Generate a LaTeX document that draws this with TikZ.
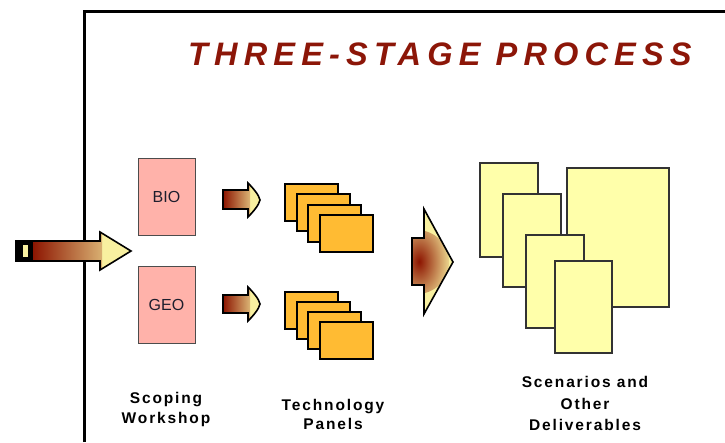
\documentclass[tikz,border=0pt]{standalone}
\usepackage{fontspec}
\setmainfont{Liberation Sans}
\newfontfamily\titlefam{Liberation Sans}[LetterSpace=19]
\newfontfamily\labelfam{Liberation Sans}[LetterSpace=12]
\usetikzlibrary{shadows}

\definecolor{titlered}{RGB}{140,22,8}
\definecolor{arrowdark}{RGB}{140,20,0}
\definecolor{arrowlight}{RGB}{248,240,160}
\definecolor{boxpink}{RGB}{255,178,170}
\definecolor{panelorange}{RGB}{255,187,51}
\definecolor{paperyellow}{RGB}{255,255,170}
\definecolor{boxtext}{RGB}{30,30,45}

\tikzset{
  stagebox/.style={draw=black!70, line width=1pt, fill=boxpink, inner sep=0pt,
    minimum width=57pt, minimum height=77pt, text=boxtext,
    font=\fontsize{16}{18}\selectfont},
  panelcard/.style={draw=black, line width=2pt, fill=panelorange, inner sep=0pt,
    minimum width=53pt, minimum height=37pt,
    drop shadow={shadow xshift=-1.2pt, shadow yshift=-1.2pt, fill=black, opacity=1}},
  papersheet/.style={draw=black!80, line width=1.2pt, fill=paperyellow, inner sep=0pt,
    drop shadow={shadow xshift=-1pt, shadow yshift=-1pt, fill=black, opacity=1}},
  stagelabel/.style={align=center, inner sep=0pt, anchor=north,
    font=\labelfam\bfseries\fontsize{15.5}{19.5}\selectfont},
  arrowline/.style={draw=black, line width=1.6pt, line join=miter},
}

\begin{document}
\begin{tikzpicture}[x=1pt,y=-1pt]
\useasboundingbox (0,0) rectangle (725,442);
\fill[white] (0,0) rectangle (725,442);

% frame
\draw[line width=3pt] (84.5,442) -- (84.5,11) -- (725,11);

% title
\node[text=titlered, inner sep=0pt, anchor=base west,
      font=\titlefam\bfseries\itshape\fontsize{32.5}{36}\selectfont]
      (title) at (188,65) {THREE-STAGE PROCESS};

% input arrow with tail block
\path[arrowline, fill=arrowlight,
  path picture={\shade[left color=arrowdark, right color=arrowlight] (32,228) rectangle (102,274);}]
  (32,241) -- (100,241) -- (100,232) -- (131,251) -- (100,270) -- (100,261) -- (32,261) -- cycle;
\fill[black] (15,240) rectangle (33,262);
\fill[arrowlight] (23,245) rectangle (28,257);

% scoping workshop boxes
\node[stagebox] (bio) at (166.5,196.5) {BIO};
\node[stagebox] (geo) at (166.5,305) {GEO};

% small arrows towards the panels
\path[arrowline, fill=arrowlight,
  path picture={\shade[left color=arrowdark, right color=arrowlight] (223,180) rectangle (250,220);}]
  (223,190) -- (248,190) -- (248,183) .. controls (253,188) and (259,195) .. (260,200)
  .. controls (259,205) and (253,212) .. (248,217) -- (248,209) -- (223,209) -- cycle;
\path[arrowline, fill=arrowlight,
  path picture={\shade[left color=arrowdark, right color=arrowlight] (223,284) rectangle (250,324);}]
  (223,295) -- (248,295) -- (248,287) .. controls (253,292) and (259,299) .. (260,304)
  .. controls (259,309) and (253,316) .. (248,321) -- (248,313) -- (223,313) -- cycle;

% technology panels
\foreach \k in {0,1,2,3} {
  \node[panelcard] (panelA\k) at (311.5+11.7*\k,202+10.5*\k) {};
}
\foreach \k in {0,1,2,3} {
  \node[panelcard] (panelB\k) at (311.5+11.7*\k,310+10*\k) {};
}

% chevron arrow towards the deliverables
\path[arrowline, fill=arrowlight,
  path picture={\shade[inner color=arrowdark, outer color=arrowlight] (417,262) circle (32pt);}]
  (412,238) -- (424,238) -- (424,209) -- (453,262) -- (424,314) -- (424,285) -- (412,285) -- cycle;

% scenarios and other deliverables
\node[papersheet, minimum width=58pt, minimum height=94pt] (sheet1) at (509,210) {};
\node[papersheet, minimum width=58pt, minimum height=93pt] (sheet2) at (532,240.5) {};
\node[papersheet, minimum width=102pt, minimum height=139pt] (sheetbig) at (618,237.5) {};
\node[papersheet, minimum width=58pt, minimum height=93pt] (sheet3) at (555,281.5) {};
\node[papersheet, minimum width=57pt, minimum height=92pt] (sheet4) at (583.5,307) {};

% stage labels
\node[stagelabel] (lblscope) at (166,392.5) {Scoping\\Workshop};
\node[stagelabel] (lbltech) at (333,399) {Technology\\Panels};
\node[stagelabel, font=\labelfam\bfseries\fontsize{15.5}{21.5}\selectfont]
  (lblscen) at (585,376.5) {Scenarios and\\Other\\Deliverables};
\end{tikzpicture}
\end{document}
